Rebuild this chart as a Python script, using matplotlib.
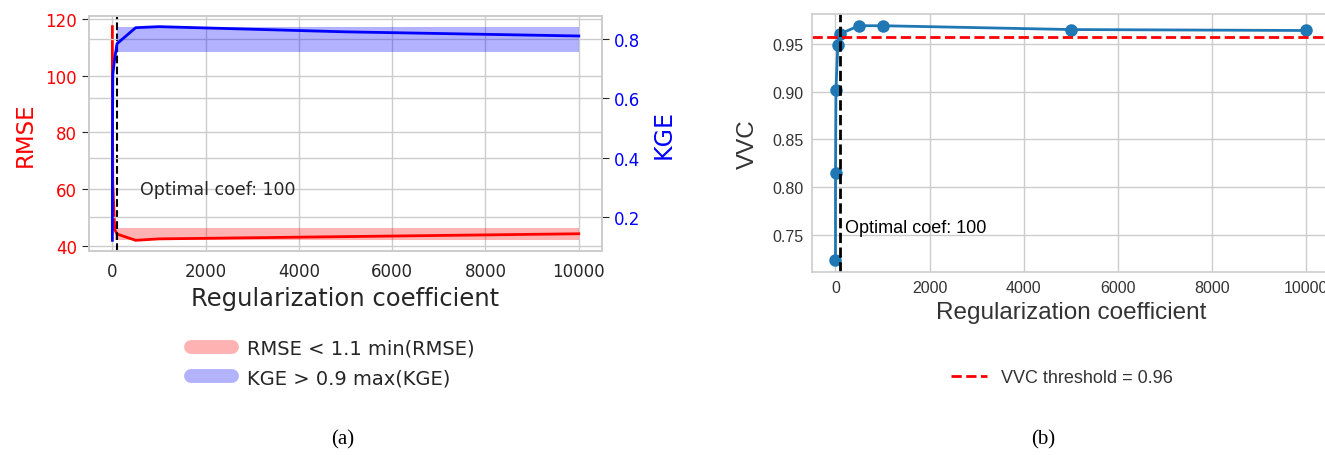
import numpy as np
import matplotlib
matplotlib.use("Agg")
import matplotlib.pyplot as plt
from matplotlib.lines import Line2D

# data
coef = [0, 1, 10, 50, 100, 500, 1000, 5000, 10000]
rmse = [117.2, 95.0, 62.0, 45.8, 44.2, 42.0, 42.5, 43.3, 44.3]
kge = [0.121, 0.45, 0.68, 0.734, 0.784, 0.838, 0.8415, 0.824, 0.810]
vvc = [0.723, 0.815, 0.902, 0.949, 0.9605, 0.969, 0.969, 0.965, 0.964]
optimal = 100
vvc_threshold = 0.957

grid_col = '#cccccc'
text_col = '#262626'

fig = plt.figure(figsize=(13.25, 4.56), dpi=100)

# ---------- (a) RMSE / KGE ----------
ax1 = fig.add_axes([0.0672, 0.4474, 0.3872, 0.5154])
ax2 = ax1.twinx()
x = np.array(coef)
r = np.array(rmse)
k = np.array(kge)

ax1.plot(x, r, color='red', lw=2)
rmin = r.min()
ax1.fill_between(x, rmin, 1.1 * rmin, where=r < 1.1 * rmin, color='red', alpha=0.3, lw=0)
ax2.plot(x, k, color='blue', lw=2)
kmax = k.max()
ax2.fill_between(x, 0.9 * kmax, kmax, where=k > 0.9 * kmax, color='blue', alpha=0.3, lw=0)
ax1.axvline(optimal, color='black', ls='--', lw=1.5)
ax1.text(600, 60, 'Optimal coef: %d' % optimal, fontsize=12.5, color=text_col, va='center')

ax1.set_xlim(-500, 10500)
ax1.set_xticks([0, 2000, 4000, 6000, 8000, 10000])
ax1.set_yticks([40, 60, 80, 100, 120])
ax2.set_yticks([0.2, 0.4, 0.6, 0.8])
ax1.set_xlabel('Regularization coefficient', fontsize=17.5, color=text_col)
ax1.set_ylabel('RMSE', fontsize=16.5, color='red', labelpad=6)
ax2.set_ylabel('KGE', fontsize=17, color='blue', labelpad=8)
for a in (ax1, ax2):
    a.grid(True, color=grid_col, lw=1)
    a.set_axisbelow(True)
    for s in a.spines.values():
        s.set_color(grid_col)
        s.set_linewidth(1.2)
ax1.tick_params(axis='x', length=0, labelsize=12, labelcolor=text_col, pad=8)
ax1.tick_params(axis='y', length=5, color=text_col, labelsize=12, labelcolor='red')
ax2.tick_params(axis='y', length=5, color=text_col, labelsize=12, labelcolor='blue')

handles = [Line2D([0], [0], color='red', alpha=0.3, lw=10, solid_capstyle='round'),
           Line2D([0], [0], color='blue', alpha=0.3, lw=10, solid_capstyle='round')]
fig.legend(handles, ['RMSE < 1.1 min(RMSE)', 'KGE > 0.9 max(KGE)'], loc='center',
           bbox_to_anchor=(0.2513, 0.202), frameon=False, fontsize=14,
           handlelength=2.1, labelcolor=text_col, labelspacing=0.55)

# ---------- (b) VVC ----------
sans = ['Liberation Sans', 'DejaVu Sans']
ax3 = fig.add_axes([0.6128, 0.4013, 0.3906, 0.5658])
ax3.plot(coef, vvc, color='#1f77b4', marker='o', lw=2, ms=8)
ax3.axhline(vvc_threshold, color='red', ls='--', lw=2)
ax3.axvline(optimal, color='black', ls='--', lw=2)
ax3.text(200, 0.757, 'Optimal coef: %d' % optimal, fontsize=13, family=sans,
         color='black', va='center')
ax3.set_xlim(-500, 10500)
ax3.set_xticks([0, 2000, 4000, 6000, 8000, 10000])
ax3.set_yticks([0.75, 0.80, 0.85, 0.90, 0.95])
ax3.grid(True, color=grid_col, lw=1)
ax3.set_axisbelow(True)
for s in ax3.spines.values():
    s.set_color(grid_col)
    s.set_linewidth(1.2)
ax3.tick_params(length=0, labelsize=11.5, labelcolor='#333333', pad=6)
for lab in ax3.get_xticklabels() + ax3.get_yticklabels():
    lab.set_family(sans)
ax3.set_xlabel('Regularization coefficient', fontsize=17.5, family=sans, color='#333333')
ax3.set_ylabel('VVC', fontsize=17.5, family=sans, color='#333333', labelpad=10)

h2 = [Line2D([0], [0], color='red', ls='--', lw=2)]
fig.legend(h2, ['VVC threshold = %.2f' % vvc_threshold], loc='center',
           bbox_to_anchor=(0.8015, 0.1689), frameon=False,
           prop={'family': sans, 'size': 13}, labelcolor='#333333', handlelength=2.0)

# captions
fig.text(0.2589, 0.035, '(a)', family=['Liberation Serif', 'DejaVu Serif'], fontsize=15,
         ha='center', va='center')
fig.text(0.787, 0.035, '(b)', family=['Liberation Serif', 'DejaVu Serif'], fontsize=15,
         ha='center', va='center')

fig.savefig('out.png', dpi=100)
